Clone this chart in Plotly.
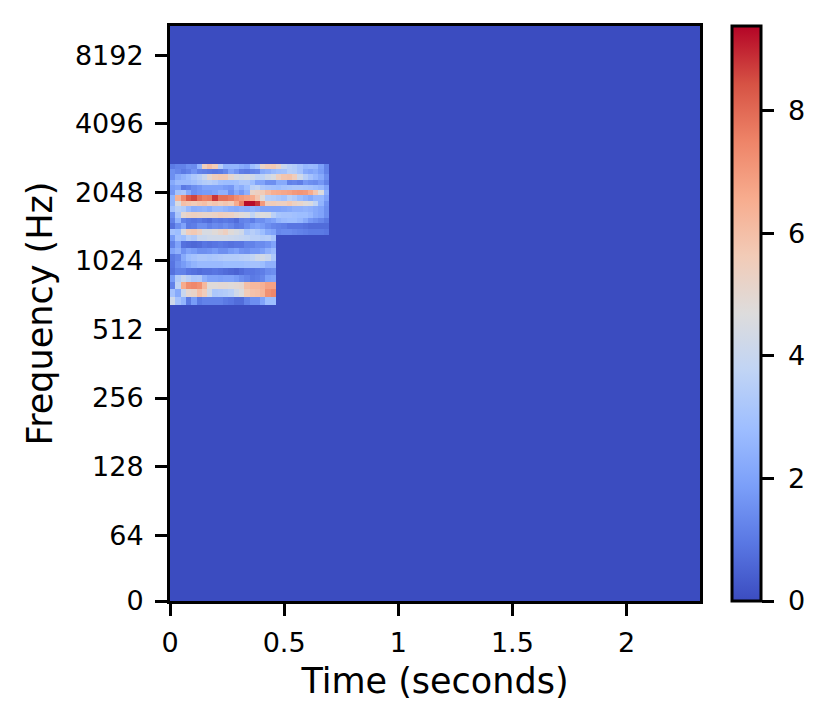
import math
import plotly.graph_objects as go

# Spectrogram display settings
hop_seconds = 512 / 22050
n_frames = 100
n_mels = 70
first_bin = 16.42
fmax = 11025

tick_hz = [0, 64, 128, 256, 512, 1024, 2048, 4096, 8192]
x_ticks = [0, 0.5, 1, 1.5, 2]
x_labels = ["0", "0.5", "1", "1.5", "2"]
cbar_ticks = [0, 2, 4, 6, 8]

# Non-zero region: rows listed from lowest frequency band upwards
band_00 = [4.2, 3, 2.5, 1, 1.8, 1, 1.2, 1.2, 1.2, 1.2, 1, .9, .7, .7, 1.2, 1.5, 1.5, 2.0, 2.8, 2.8]
band_01 = [3.0, 2.2, 4, 5, 5.2, 6, 5.5, 4.2, 3.2, 3.3, 3.4, 3.6, 4.2, 4.6, 5.6, 5.9, 6, 6.3, 7.2, 7.4]
band_02 = [1.2, 3.8, 6.6, 7.3, 7.4, 7.2, 6.2, 4.8, 4.8, 4.9, 4.9, 4.8, 4.9, 5.0, 6, 6.2, 6.2, 6.4, 6.8, 6.8]
band_03 = [1.8, 3.4, 4.0, 3.6, 3.2, 3.3, 2.4, 2.0, 2.0, 1.9, 2.0, 2.0, 1.8, 1.5, 1.3, 1.0, 1.1, 1.3, 1.9, 2.0]
band_04 = [.8, 1.2, 1.2, .9, .8, .7, .8, .8, .9, .8, .7, .6, .5, .7, .9, .9, 1.0, 1.1, 1.4, 1.5]
band_05 = [.9, 1.5, 1.8, 2.2, 2.5, 2.7, 2.7, 2.7, 2.7, 2.7, 2.8, 2.8, 2.8, 2.8, 2.9, 3.0, 3.0, 2.8, 2.4, 2.4]
band_06 = [1, 1.3, 2.2, 2.8, 3.0, 3.2, 3.2, 3.1, 3.2, 3.3, 3.4, 3.4, 3.4, 3.5, 3.6, 3.8, 4.2, 4.3, 4.0, 3.2]
band_07 = [2.0, 2.4, 1.6, 2, 1.8, 1.5, 1.5, 1.6, 1.8, 1.5, 1.5, 1.8, 2, 1.6, 1.5, 1.7, 1.7, 1.9, 2.4, 2.7]
band_08 = [1.2, 2, .8, .7, .6, .7, .9, .8, .9, 1, .9, .8, .9, .9, 1.2, 1.2, 1.4, 1.4, 1.6, 2]
band_09 = [1.8, 3.0, 2.8, 3.5, 3.3, 4.0, 4.0, 4.2, 4.2, 4.2, 4.2, 4.1, 4.0, 3.9, 3.8, 3.6, 3.6, 3.4, 3.5, 3.1]
band_10 = [3.0, 2.8, 4.5, 5.5, 5.7, 5.3, 4.5, 4.5, 4.8, 5.1, 5.4, 4.8, 4.5, 4.2, 3.2, 3.5, 3.2, 2.8, 2.2, 2.0, 1.3, 1.4, 1.4, 1.3, 1.2, 1.1, 1, 1, 1, .9]
band_11 = [.8, 1.5, 2, 1, 1.1, 1.5, 1.5, 1.2, 1.4, 1.3, 1.5, 1.3, 1.0, 1.1, 1.5, 1.8, 2, 1.8, 1.5, 1.3, 1.2, 1.1, .9, .9, .9, .8, .7, .7, .7, .7]
band_12 = [1.2, 2.5, 1.2, 1, .9, 1, .8, .7, 1, .9, 1, .9, .7, 1.2, 1.3, 1.1, 1.5, 1.5, 1.8, 2, 2.5, 2.7, 2.8, 2.8, 2.6, 2.2, 1.7, 1.5, 1.3, 1]
band_13 = [1.5, 3.2, 5, 5.3, 5.4, 5.3, 5.2, 5.2, 5.3, 5.5, 5.4, 5.3, 5.0, 4.8, 4.6, 3.8, 4.5, 4.7, 4.6, 3.6, 3.1, 3.0, 3.0, 2.9, 2.8, 2.8, 2.6, 2.2, 2.0, 1.5]
band_14 = [3.0, 3.6, 3.4, 2.7, 2.3, 2.4, 2.5, 2.3, 2.7, 2.7, 2.5, 2.3, 2.2, 2.4, 2.3, 2.5, 2.3, 2, 2, 2, 2, 2.1, 2.2, 2.4, 2.4, 2.5, 2.4, 2.2, 2, 1.5]
band_15 = [2.5, 4.5, 6.0, 5.8, 5.6, 5.8, 6.0, 5.6, 5.8, 5.6, 5.8, 5.6, 6.6, 7.6, 9.3, 9.3, 8.8, 7, 5.5, 5.6, 5.4, 5.4, 5.7, 5.3, 5.1, 4.8, 4.5, 3.8, 2.5, 1.6]
band_16 = [2.5, 6.4, 7.4, 8.3, 8.6, 7.9, 7.6, 7.7, 8.8, 7.9, 7.9, 7.7, 7.3, 7, 6.8, 6.6, 5.8, 4.8, 3.5, 3.4, 3.2, 3, 3.6, 3.3, 2.8, 2.5, 2.2, 2.6, 2.6, 2]
band_17 = [1.7, 3.0, 3.2, 2.2, 1.5, 1.7, 1.8, 1.8, 2, 2.4, 2.4, 1.5, 2.2, 1.7, 2.4, 5.2, 5.4, 5.6, 6.1, 6.5, 6.6, 6.7, 6.8, 7, 7.1, 7, 6.6, 5.8, 4.6, 2.4]
band_18 = [1.8, 2.0, 1, 1.2, 1.5, 1.7, 2, 2, 2, 2, 1.8, 1.7, 2.6, 2.3, 2.8, 3.6, 3.8, 3.2, 3.0, 2.9, 2.8, 3.0, 3.1, 3.2, 3.2, 3.1, 3.0, 2.8, 2.6, 2.0]
band_19 = [2.2, 2.7, 2.7, 2.7, 2.9, 3.2, 3.4, 3.5, 3.3, 2.9, 2.8, 2.8, 2.9, 3.2, 3.2, 2.8, 2, 2, 1.5, 1.5, 2.2, 2.2, 1.2, 1.3, 1.1, 1.7, 1.5, 1.4, 1.7, 1.2]
band_20 = [1.5, 2.2, 2.5, 2.8, 3.2, 3.5, 4, 5, 5.5, 5.7, 5.7, 5, 4.5, 4.3, 4.5, 4.2, 3.8, 3.7, 4.2, 4.5, 5.4, 5.8, 5.9, 5.5, 4.2, 3.5, 3, 2.6, 2.2, 1.5]
band_21 = [1.5, 1.3, 1, 1.2, 1.6, 1.2, 1.1, 1, .9, 1, 1.3, 2, 1.6, 1.1, 1, 1.2, 1.3, 2.2, 2.4, 2.7, 2.9, 3, 3.5, 3.4, 3, 2.2, 2, 2.2, 1.8, 1.2]
band_22 = [1, 1.2, 1.2, 1.5, 1.4, 2.5, 5.5, 6, 5.6, 3.5, 2.5, 2.5, 2.5, 2.2, 2, 2.8, 3.2, 5.2, 5.6, 5.7, 5.2, 4, 3.6, 3.4, 3, 2.6, 2.7, 2.6, 1.9, 1.2]

bands = [band_00, band_01, band_02, band_03, band_04, band_05, band_06, band_07,
         band_08, band_09, band_10, band_11, band_12, band_13, band_14, band_15,
         band_16, band_17, band_18, band_19, band_20, band_21, band_22]

coolwarm = [[0.0, "#3b4cc0"], [0.1, "#5977e3"], [0.2, "#7b9ff9"], [0.3, "#9ebeff"],
            [0.4, "#c0d4f5"], [0.5, "#dddcdc"], [0.6, "#f2cbb7"], [0.7, "#f7ac8e"],
            [0.8, "#ee8468"], [0.9, "#d65244"], [1.0, "#b40426"]]


def axis_pos(hz):
    """Symmetric-log frequency axis: linear below 64 Hz, octaves above."""
    if hz < 64:
        return 0.962 * hz / 64
    return 0.962 + math.log2(hz / 64)


def mel_to_hz(m):
    return 700 * (10 ** (m / 2595) - 1)


mel_step = 2595 * math.log10(1 + fmax / 700) / n_mels
y_edges = [0] + [axis_pos(mel_to_hz(mel_step * (first_bin + i))) for i in range(len(bands) + 1)] + [axis_pos(fmax)]
x_edges = [i * hop_seconds for i in range(n_frames + 1)]

z = [[0.0] * n_frames]
for band in bands:
    z.append(list(band) + [0.0] * (n_frames - len(band)))
z.append([0.0] * n_frames)

tick_font = dict(family="DejaVu Sans", size=27, color="black")
title_font = dict(family="DejaVu Sans", size=35, color="black")

fig = go.Figure(go.Heatmap(
    x=x_edges, y=y_edges, z=z, zmin=0, zmax=9.38, colorscale=coolwarm, hoverinfo="skip",
    colorbar=dict(
        x=1.060, xanchor="left", xref="paper", y=0.5, yanchor="middle", yref="paper",
        len=1.0, lenmode="fraction", thickness=29, thicknessmode="pixels",
        outlinewidth=3, outlinecolor="black", xpad=0, ypad=0,
        tickvals=cbar_ticks, ticktext=["\u00a0" + str(v) for v in cbar_ticks],
        ticks="outside", ticklen=12, tickwidth=3, tickcolor="black",
        tickfont=tick_font,
    ),
))
fig.update_xaxes(
    range=[0, x_edges[-1]], tickvals=x_ticks, ticktext=x_labels,
    ticks="outside", ticklen=12, tickwidth=3, tickcolor="black", ticklabelstandoff=4,
    showline=True, linewidth=3, linecolor="black", mirror=True, showgrid=False, zeroline=False,
    tickfont=tick_font,
    title=dict(text="Time (seconds)", font=title_font, standoff=12),
)
fig.update_yaxes(
    range=[0, axis_pos(fmax)], tickvals=[axis_pos(h) for h in tick_hz], ticktext=[str(h) for h in tick_hz],
    ticks="outside", ticklen=12, tickwidth=3, tickcolor="black", ticklabelstandoff=6,
    showline=True, linewidth=3, linecolor="black", mirror=True, showgrid=False, zeroline=False,
    tickfont=tick_font,
    title=dict(text="Frequency (Hz)", font=title_font, standoff=12),
)
fig.update_layout(
    width=821, height=718, autosize=False, paper_bgcolor="white", plot_bgcolor="white",
    margin=dict(l=162, r=129, t=18, b=125, pad=0), showlegend=False,
)
fig.write_html("out.html")
